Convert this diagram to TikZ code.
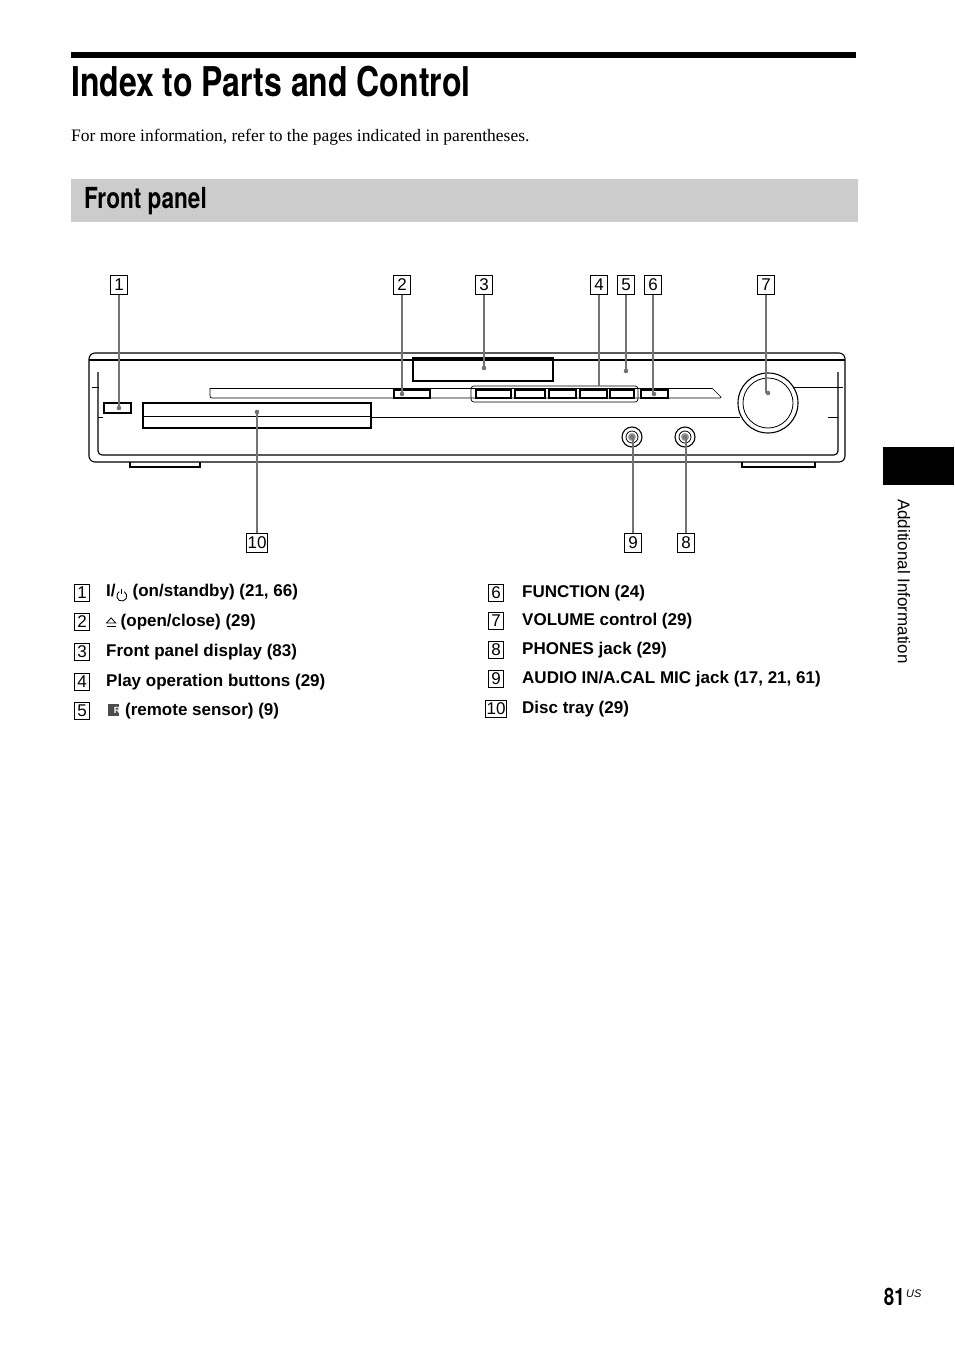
\documentclass[tikz,border=0pt]{standalone}
\usepackage{fontspec}
\setmainfont{Liberation Serif}
\setsansfont{Liberation Sans}
\newfontfamily\condfont[FakeStretch=0.78]{TeX Gyre Heros}
\begin{document}
\newcommand{\pwrsym}{\tikz[baseline=0pt,line width=0.9pt]{\draw (60:5pt) arc (60:-240:5pt) ++(0,0);\draw (0,2pt)--(0,7.5pt);\path (0,-5pt);}}
\newcommand{\ejsym}{\tikz[baseline=0pt,line width=0.8pt]{\draw (-4.5pt,3.5pt)--(0,8.5pt)--(4.5pt,3.5pt)--cycle;\draw (-4.5pt,0.5pt)--(4.5pt,0.5pt);}}
\newcommand{\rsym}{\tikz[baseline=0pt]{\fill[black!70] (0,-1pt) rectangle (11pt,11pt);\node[white,font=\sffamily\bfseries\small,inner sep=0] at (5.5pt,5pt){R};}}
\begin{tikzpicture}[x=1pt,y=-1pt,
  numbox/.style={draw,line width=0.6pt,font=\sffamily\fontsize{17}{17}\selectfont,inner sep=1pt,minimum width=17pt,minimum height=19pt},
  lead/.style={draw=black!55,line width=1.6pt},
  body/.style={line width=1.1pt},
  item/.style={anchor=west,font=\sffamily\bfseries\fontsize{17}{20}\selectfont,inner sep=0}]
\useasboundingbox (0,0) rectangle (954,1352);
% header
\fill (71,52) rectangle (856,58);
\node[anchor=base west,inner sep=0,font=\condfont\bfseries\fontsize{41}{41}\selectfont] (title) at (71,96) {Index to Parts and Control};
\node[anchor=base west,inner sep=0,font=\fontsize{17.5}{20}\selectfont] (intro) at (71,141) {For more information, refer to the pages indicated in parentheses.};
\fill[black!20] (71,179) rectangle (858,222);
\node[anchor=west,inner sep=0,font=\condfont\bfseries\fontsize{29}{29}\selectfont] (fp) at (84,201) {Front panel};
% side tab
\fill (883,447) rectangle (954,485);
\node[rotate=-90,anchor=west,inner sep=0,font=\sffamily\fontsize{17}{17}\selectfont] (side) at (904,499) {Additional Information};
\node[anchor=base east,inner sep=0,font=\condfont\bfseries\fontsize{24}{24}\selectfont] (pg) at (905,1305) {81};
\node[anchor=base west,inner sep=0,font=\sffamily\itshape\fontsize{11}{11}\selectfont] (us) at (906,1297) {US};
% device body
\draw[body,rounded corners=6] (89,353) rectangle (845,462);
\draw[body] (89,360)--(845,360);
\draw[line width=0.7pt] (92,387)--(99,387) (742,387)--(843,387);
\draw[body,rounded corners=4] (98,372) -- (98,455) -- (838,455) -- (838,372);
\draw[line width=0.7pt] (98,417)--(103,417) (828,417)--(838,417);
\draw[body] (130,462)--(130,467)--(200,467)--(200,462);
\draw[body] (742,462)--(742,467)--(815,467)--(815,462);
\draw[body] (413,358) rectangle (553,381);
\draw[line width=0.7pt,rounded corners=2] (210,388)--(210,398)--(722,398)--(712,388);
\draw[line width=0.7pt] (210,388)--(712,388);
\draw[body,fill=white] (394,390) rectangle (430,398);
\draw[line width=0.7pt,rounded corners=3] (471,386) rectangle (638,402);
\foreach \a/\b in {476/511,515/545,549/576,580/607,610/634}{\draw[body,fill=white] (\a,390) rectangle (\b,398);}
\draw[body,fill=white] (641,390) rectangle (668,398);
\draw[body] (104,403) rectangle (131,413);
\draw[body] (143,403) rectangle (371,428);
\draw[line width=0.7pt] (143,416)--(371,416);
\draw[line width=0.7pt] (371,417)--(740,417);
\draw[body,fill=white] (768,403) circle (30);
\draw[line width=0.8pt] (768,403) circle (25);
\foreach \cx in {632,685}{\draw[body] (\cx,437) circle (10); \draw[line width=0.8pt] (\cx,437) circle (6); \fill[black!40] (\cx,437) circle (4);}
% labels
\node[numbox] (n1) at (119,285) {1};
\node[numbox] (n2) at (402,285) {2};
\node[numbox] (n3) at (484,285) {3};
\node[numbox] (n4) at (599,285) {4};
\node[numbox] (n5) at (626,285) {5};
\node[numbox] (n6) at (653,285) {6};
\node[numbox] (n7) at (766,285) {7};
\node[numbox] (n10) at (257,543) {10};
\node[numbox] (n9) at (633,543) {9};
\node[numbox] (n8) at (686,543) {8};
\coordinate (p1) at (119,408); \coordinate (p2) at (402,394); \coordinate (p3) at (484,368);
\coordinate (p4) at (599,386); \coordinate (p5) at (626,371); \coordinate (p6) at (654,394);
\coordinate (p7) at (768,393); \coordinate (p10) at (257,412); \coordinate (p9) at (632,437); \coordinate (p8) at (685,437);
\foreach \n in {1,2,3,4,5,6,7}{\draw[lead] (n\n.south) -- (n\n.south |- p\n);}
\foreach \n in {10,9,8}{\draw[lead] (n\n.north) -- (n\n.north |- p\n);}
\foreach \n in {1,2,3,5,6,7,10,9,8}{\fill[black!55] (p\n) circle (2.3);}
% list
\foreach \n/\y in {1/593,2/622,3/652,4/682,5/711}{\node[numbox,minimum width=15pt,minimum height=17pt] (l\n) at (82,\y) {\n};}
\foreach \n/\y in {6/593,7/621,8/650,9/679,10/709}{\node[numbox,minimum width=15pt,minimum height=17pt] (l\n) at (496,\y) {\n};}
\node[item] (t1) at (106,593) {I/\pwrsym{} (on/standby) (21, 66)};
\node[item] (t2) at (106,622) {\ejsym{} (open/close) (29)};
\node[item] (t3) at (106,652) {Front panel display (83)};
\node[item] (t4) at (106,682) {Play operation buttons (29)};
\node[item] (t5) at (108,711) {\rsym{} (remote sensor) (9)};
\node[item] (t6) at (522,593) {FUNCTION (24)};
\node[item] (t7) at (522,621) {VOLUME control (29)};
\node[item] (t8) at (522,650) {PHONES jack (29)};
\node[item] (t9) at (522,679) {AUDIO IN/A.CAL MIC jack (17, 21, 61)};
\node[item] (t10) at (522,709) {Disc tray (29)};
\end{tikzpicture}
\end{document}
